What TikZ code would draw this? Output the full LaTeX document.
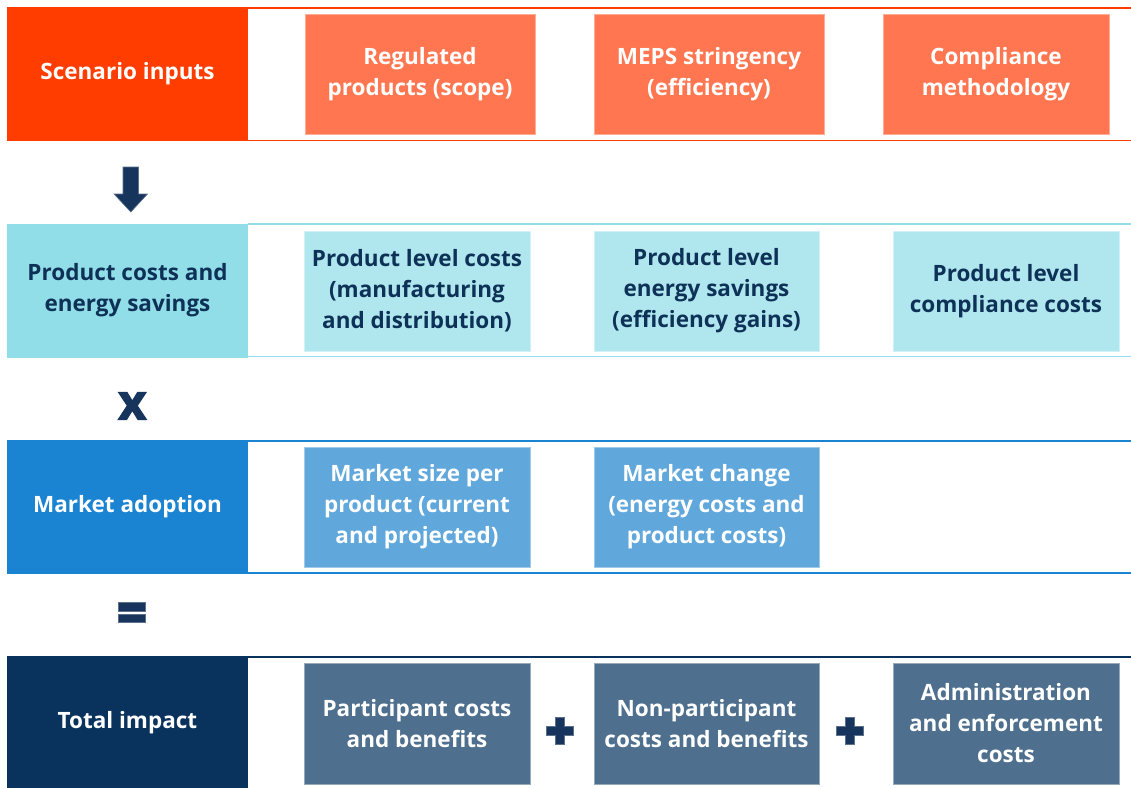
\documentclass[tikz,border=0pt]{standalone}
\usepackage{fontspec}
\setmainfont{Open Sans}
\newfontfamily\heavyx{Open Sans}[BoldFeatures={FakeBold=2}]
\definecolor{aDark}{HTML}{FF3D00}
\definecolor{aBox}{HTML}{FF7650}
\definecolor{bDark}{HTML}{92DEE8}
\definecolor{bBox}{HTML}{B0E7EE}
\definecolor{cDark}{HTML}{1A84D2}
\definecolor{cBox}{HTML}{60A7DC}
\definecolor{dDark}{HTML}{09335D}
\definecolor{dBox}{HTML}{4E6F8D}
\definecolor{navyTxt}{HTML}{0E3257}
\definecolor{symb}{HTML}{17345C}
\tikzset{
  lbl/.style={font=\bfseries\fontsize{22.5}{31}\selectfont, align=center, inner sep=0pt},
  lblock/.style={lbl, minimum width=241pt, minimum height=134pt, draw=none},
  cellbox/.style={lbl, minimum width=#1, minimum height=120pt},
  rowline/.style={line width=1.6pt},
  symbshape/.style={fill=symb, draw=symb!70, line width=0.6pt},
}
\begin{document}
\begin{tikzpicture}[x=1pt,y=-1pt]
\useasboundingbox[fill=white] (0,0) rectangle (1131,787);

% ---------- Row 1: Scenario inputs ----------
\draw[aDark, rowline] (248,8) -- (1131,8);
\draw[aDark, rowline] (248,140.5) -- (1131,140.5);
\node[lblock, fill=aDark, text=white] (r1) at (127.5,74) {Scenario inputs};
\node[cellbox=230pt, fill=aBox, draw=aBox!60!white, text=white] (r1a) at (420,74) {Regulated\\products (scope)};
\node[cellbox=230pt, fill=aBox, draw=aBox!60!white, text=white] (r1b) at (709,74) {MEPS stringency\\(efficiency)};
\node[cellbox=226pt, fill=aBox, draw=aBox!60!white, text=white] (r1c) at (996,74) {Compliance\\methodology};

% arrow
\path[symbshape] (123,167) -- (138.6,167) -- (138.6,194) -- (147.5,194) -- (130.8,212) -- (114,194) -- (123,194) -- cycle;

% ---------- Row 2: Product costs ----------
\draw[bDark, rowline] (248,224) -- (1131,224);
\draw[bDark, rowline] (248,356.5) -- (1131,356.5);
\node[lblock, fill=bDark, text=navyTxt] (r2) at (127.5,290.5) {Product costs and\\energy savings};
\node[cellbox=226pt, fill=bBox, draw=bBox!60!white, text=navyTxt] (r2a) at (417,291) {Product level costs\\(manufacturing\\and distribution)};
\node[cellbox=225pt, fill=bBox, draw=bBox!60!white, text=navyTxt] (r2b) at (706.5,291) {Product level\\energy savings\\(efficiency gains)};
\node[cellbox=226pt, fill=bBox, draw=bBox!60!white, text=navyTxt] (r2c) at (1006,291) {Product level\\compliance costs};

% x
\node[font=\heavyx\bfseries\fontsize{50}{50}\selectfont, text=symb, inner sep=0pt] (times) at (132.3,406) {x};

% ---------- Row 3: Market adoption ----------
\draw[cDark, rowline] (248,441) -- (1131,441);
\draw[cDark, rowline] (248,573) -- (1131,573);
\node[lblock, fill=cDark, text=white] (r3) at (127.5,507) {Market adoption};
\node[cellbox=226pt, fill=cBox, draw=cBox!60!white, text=white] (r3a) at (417,507) {Market size per\\product (current\\and projected)};
\node[cellbox=225pt, fill=cBox, draw=cBox!60!white, text=white] (r3b) at (706.5,507) {Market change\\(energy costs and\\product costs)};

% =
\path[symbshape] (118,602.7) rectangle (145.4,611);
\path[symbshape] (118,614) rectangle (145.4,622.3);

% ---------- Row 4: Total impact ----------
\draw[dDark, rowline] (248,657) -- (1131,657);
\node[lblock, fill=dDark, text=white] (r4) at (127.5,723) {Total impact};
\node[cellbox=226pt, minimum height=121pt, fill=dBox, draw=dBox!60!white, text=white] (r4a) at (417,723.5) {Participant costs\\and benefits};
\node[cellbox=225pt, minimum height=121pt, fill=dBox, draw=dBox!60!white, text=white] (r4b) at (706.5,723.5) {Non-participant\\costs and benefits};
\node[cellbox=226pt, minimum height=121pt, fill=dBox, draw=dBox!60!white, text=white] (r4c) at (1006,723.5) {Administration\\and enforcement\\costs};

% plus signs
\path[symbshape] (546,726) -- (555,726) -- (555,717) -- (564,717) -- (564,726) -- (573,726) -- (573,735) -- (564,735) -- (564,744) -- (555,744) -- (555,735) -- (546,735) -- cycle;
\path[symbshape] (836,726) -- (845,726) -- (845,717) -- (854,717) -- (854,726) -- (863,726) -- (863,735) -- (854,735) -- (854,744) -- (845,744) -- (845,735) -- (836,735) -- cycle;
\end{tikzpicture}
\end{document}
